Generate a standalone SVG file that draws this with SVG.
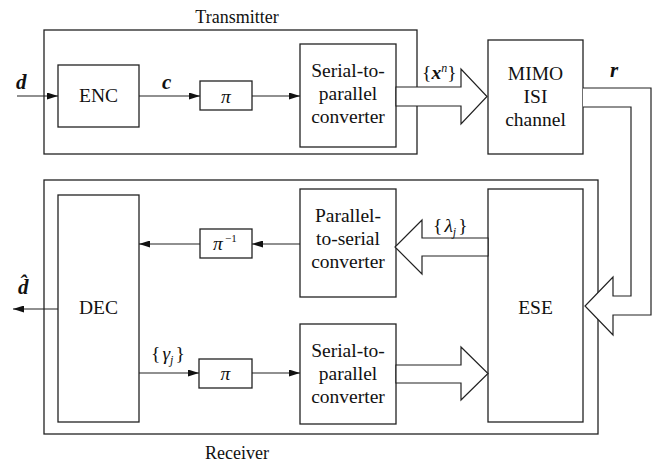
<svg xmlns="http://www.w3.org/2000/svg" width="658" height="464" viewBox="0 0 658 464">
<style>
.box{fill:#fff;stroke:#222;stroke-width:1.3}
.frame{fill:none;stroke:#222;stroke-width:1.3}
.ln{fill:none;stroke:#222;stroke-width:1.2}
.blk{fill:#fff;stroke:#222;stroke-width:1.2;stroke-linejoin:miter}
text{font-family:'Liberation Serif','DejaVu Serif',serif;font-size:19.5px;fill:#111}
.c{text-anchor:middle}
.bi{font-weight:bold;font-style:italic;font-size:21px}
.it{font-style:italic}
</style>
<defs>
<marker id="ah" markerUnits="userSpaceOnUse" markerWidth="11" markerHeight="7" refX="11" refY="3.5" orient="auto">
<path d="M0,0 L11,3.5 L0,7 z" fill="#111"/>
</marker>
</defs>

<g id="transmitter">
<rect class="frame" x="44" y="30" width="373" height="124"/>
<text class="c" x="237" y="23" style="font-size:18px">Transmitter</text>
</g>
<g id="receiver">
<rect class="frame" x="44" y="180" width="554" height="254"/>
<text class="c" x="237" y="459" style="font-size:18px">Receiver</text>
</g>

<g id="enc"><rect class="box" x="58" y="65" width="81" height="62"/><text class="c" x="98.5" y="102">ENC</text></g>
<g id="pi1"><rect class="box" x="200" y="81" width="52" height="29"/><text class="c it" x="226" y="103">π</text></g>
<g id="sp1"><rect class="box" x="300" y="44" width="96" height="103"/>
<text class="c" x="348" y="77">Serial-to-</text><text class="c" x="348" y="100">parallel</text><text class="c" x="348" y="123">converter</text></g>
<g id="mimo"><rect class="box" x="488" y="40" width="95" height="114"/>
<text class="c" x="535.5" y="80">MIMO</text><text class="c" x="535.5" y="103">ISI</text><text class="c" x="535.5" y="126">channel</text></g>

<g id="dec"><rect class="box" x="58" y="195" width="81" height="227"/><text class="c" x="98.5" y="314">DEC</text></g>
<g id="pinv"><rect class="box" x="200" y="229" width="52" height="29"/><text x="213" y="250" class="it">π</text><text x="225" y="242" style="font-size:11px">−1</text></g>
<g id="ps"><rect class="box" x="300" y="189" width="96" height="108"/>
<text class="c" x="348" y="222">Parallel-</text><text class="c" x="348" y="245">to-serial</text><text class="c" x="348" y="268">converter</text></g>
<g id="pi2"><rect class="box" x="199" y="359" width="53" height="29"/><text class="c it" x="225.5" y="380">π</text></g>
<g id="sp2"><rect class="box" x="300" y="324" width="96" height="100"/>
<text class="c" x="348" y="357">Serial-to-</text><text class="c" x="348" y="380">parallel</text><text class="c" x="348" y="403">converter</text></g>
<g id="ese"><rect class="box" x="488" y="189" width="95" height="233"/><text class="c" x="535.5" y="314">ESE</text></g>

<g id="connectors">
<line class="ln" x1="17" y1="96" x2="58" y2="96" marker-end="url(#ah)"/>
<line class="ln" x1="139" y1="96" x2="200" y2="96" marker-end="url(#ah)"/>
<line class="ln" x1="252" y1="96" x2="300" y2="96" marker-end="url(#ah)"/>
<line class="ln" x1="300" y1="244" x2="252" y2="244" marker-end="url(#ah)"/>
<line class="ln" x1="200" y1="244" x2="139" y2="244" marker-end="url(#ah)"/>
<line class="ln" x1="58" y1="309" x2="13" y2="309" marker-end="url(#ah)"/>
<line class="ln" x1="139" y1="373" x2="199" y2="373" marker-end="url(#ah)"/>
<line class="ln" x1="252" y1="373" x2="300" y2="373" marker-end="url(#ah)"/>
<polygon class="blk" points="396,87 461,87 461,69 487,96.5 461,124 461,106 396,106"/>
<polygon class="blk" points="488,238 422,238 422,220 395,247 422,274 422,256 488,256"/>
<polygon class="blk" points="396,365 461,365 461,347 488,373.5 461,400 461,383 396,383"/>
<path class="blk" d="M583,88 L651,88 L651,315 L613,315 L613,335 L585,306 L613,277 L613,296 L631,296 L631,107 L583,107"/>
</g>

<g id="labels">
<text class="bi" x="16" y="89">d</text>
<text class="bi" x="162" y="89">c</text>
<text class="bi" x="610" y="77">r</text>
<text class="bi" x="18" y="294">d̂</text>
<text x="422" y="79">{<tspan class="bi" style="font-size:19.5px">x</tspan><tspan class="it" style="font-size:12px" dy="-7">n</tspan><tspan dy="7">}</tspan></text>
<text x="433" y="232">{<tspan class="it" dx="2">λ</tspan><tspan class="it" style="font-size:12px" dy="4">j</tspan><tspan dy="-4" dx="2">}</tspan></text>
<text x="151" y="360">{<tspan class="it" dx="2">γ</tspan><tspan class="it" style="font-size:12px" dy="4">j</tspan><tspan dy="-4" dx="2">}</tspan></text>
</g>
</svg>
